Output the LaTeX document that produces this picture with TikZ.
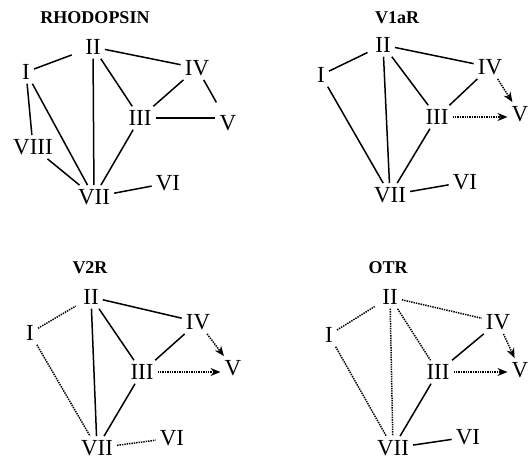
\documentclass[tikz,border=0pt]{standalone}
\usepackage{fontspec}
\setmainfont{Liberation Serif}
\usetikzlibrary{arrows.meta}
\begin{document}
\begin{tikzpicture}[x=1pt,y=-1pt,
  num/.style={font=\fontsize{23}{23}\selectfont, inner sep=4pt},
  ttl/.style={font=\bfseries\fontsize{18}{18}\selectfont},
  solln/.style={line width=1.5pt},
  dotln/.style={line width=1.5pt, dash pattern=on 1.4pt off 1pt},
  arr/.style={dotln, -{Stealth[length=10pt,width=8pt]}}]
\useasboundingbox (0,0) rectangle (529,459);

\node[ttl] (rT) at (95,18) {RHODOPSIN};
\node[num] (rII) at (93,47) {II};
\node[num] (rI) at (26,72) {I};
\node[num] (rIV) at (197,68) {IV};
\node[num] (rIII) at (140,118) {III};
\node[num] (rV) at (228,123) {V};
\node[num] (rVIII) at (33,147) {VIII};
\node[num] (rVII) at (94,197) {VII};
\node[num] (rVI) at (168,183) {VI};
\draw[solln, shorten >=10pt] (rI) -- (rII);
\draw[solln] (rII) -- (rIV);
\draw[solln] (rII) -- (rIII);
\draw[solln] (rII) -- (rVII);
\draw[solln] (rI) -- (rVIII);
\draw[solln] (rI) -- (rVII);
\draw[solln] (rIV) -- (rIII);
\draw[solln, shorten >=10pt] (rIV) -- (rV);
\draw[solln] (rIII) -- (rIII -| rV.west);
\draw[solln] (rIII) -- (rVII);
\draw[solln] (rVIII) -- (rVII);
\draw[solln] (rVII) -- (rVI);

\node[ttl] (aT) at (397,18) {V1aR};
\node[num] (aII) at (383,45) {II};
\node[num] (aI) at (321,75) {I};
\node[num] (aIV) at (490,67) {IV};
\node[num] (aIII) at (437,117) {III};
\node[num] (aV) at (520,114) {V};
\node[num] (aVII) at (390,195) {VII};
\node[num] (aVI) at (465,182) {VI};
\draw[solln, shorten >=4pt] (aI) -- (aII);
\draw[solln] (aII) -- (aIV);
\draw[solln] (aII) -- (aIII);
\draw[solln] (aII) -- (aVII);
\draw[solln] (aI) -- (aVII);
\draw[solln] (aIV) -- (aIII);
\draw[solln] (aIII) -- (aVII);
\draw[solln] (aVII) -- (aVI);
\draw[arr] (aIV) -- (aV);
\draw[arr] (aIII) -- (aIII -| aV.west);

\node[ttl] (bT) at (90,268) {V2R};
\node[num] (bII) at (91,297) {II};
\node[num] (bI) at (30,333) {I};
\node[num] (bIV) at (198,322) {IV};
\node[num] (bIII) at (142,372) {III};
\node[num] (bV) at (233,368) {V};
\node[num] (bVII) at (97,448) {VII};
\node[num] (bVI) at (172,438) {VI};
\draw[dotln, shorten >=4pt] (bI) -- (bII);
\draw[solln] (bII) -- (bIV);
\draw[solln] (bII) -- (bIII);
\draw[solln] (bII) -- (bVII);
\draw[dotln] (bI) -- (bVII);
\draw[solln] (bIV) -- (bIII);
\draw[solln] (bIII) -- (bVII);
\draw[dotln] (bVII) -- (bVI);
\draw[arr] (bIV) -- (bV);
\draw[arr] (bIII) -- (bIII -| bV.west);

\node[ttl] (oT) at (388,268) {OTR};
\node[num] (oII) at (390,297) {II};
\node[num] (oI) at (329,335) {I};
\node[num] (oIV) at (498,322) {IV};
\node[num] (oIII) at (438,372) {III};
\node[num] (oV) at (520,370) {V};
\node[num] (oVII) at (393,448) {VII};
\node[num] (oVI) at (468,437) {VI};
\draw[dotln, shorten >=4pt] (oI) -- (oII);
\draw[dotln] (oII) -- (oIV);
\draw[dotln] (oII) -- (oIII);
\draw[dotln] (oII) -- (oVII);
\draw[dotln] (oI) -- (oVII);
\draw[solln] (oIV) -- (oIII);
\draw[solln] (oIII) -- (oVII);
\draw[solln] (oVII) -- (oVI);
\draw[arr] (oIV) -- (oV);
\draw[arr] (oIII) -- (oIII -| oV.west);
\end{tikzpicture}
\end{document}
